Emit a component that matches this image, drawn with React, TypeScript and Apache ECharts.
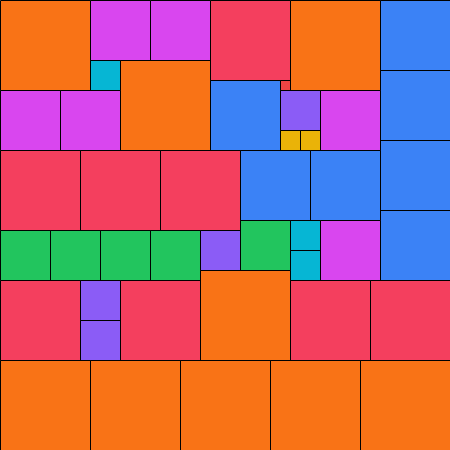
import React, { useEffect, useRef } from "react";
import * as echarts from "echarts";

// Cells in grid units (1 unit = 1/45 of the square)
const cellX = [0, 9, 15, 9, 12, 21, 28, 29, 38, 38, 38, 38, 0, 6, 21, 28, 28, 30, 32, 0, 8, 16, 24, 31, 0, 5, 10, 15, 20, 24, 29, 29, 32, 0, 8, 8, 12, 20, 29, 37, 0, 9, 18, 27, 36];
const cellY = [0, 0, 0, 6, 6, 0, 8, 0, 0, 7, 14, 21, 9, 9, 8, 9, 13, 13, 9, 15, 15, 15, 15, 15, 23, 23, 23, 23, 23, 22, 22, 25, 22, 28, 28, 32, 28, 27, 28, 28, 36, 36, 36, 36, 36];
const cellW = [9, 6, 6, 3, 9, 8, 1, 9, 7, 7, 7, 7, 6, 6, 7, 4, 2, 2, 6, 8, 8, 8, 7, 7, 5, 5, 5, 5, 4, 5, 3, 3, 6, 8, 4, 4, 8, 9, 8, 8, 9, 9, 9, 9, 9];
const cellH = cellW;
const cellGroup = [
  "orange", "magenta", "magenta", "cyan", "orange", "rose", "red", "orange", "blue", "blue", "blue", "blue",
  "magenta", "magenta", "blue", "purple", "yellow", "yellow", "magenta",
  "rose", "rose", "rose", "blue", "blue",
  "green", "green", "green", "green", "purple", "green", "cyan", "cyan", "magenta",
  "rose", "purple", "purple", "rose", "orange", "rose", "rose",
  "orange", "orange", "orange", "orange", "orange",
];

const palette: Record<string, string> = {
  orange: "#f97316",
  magenta: "#d946ef",
  cyan: "#06b6d4",
  rose: "#f43f5e",
  red: "#ef4444",
  blue: "#3b82f6",
  purple: "#8b5cf6",
  yellow: "#eab308",
  green: "#22c55e",
};

export default function App() {
  const ref = useRef<HTMLDivElement>(null);
  useEffect(() => {
    document.body.style.margin = "0";
    if (!ref.current) return;
    const chart = echarts.init(ref.current, null, { renderer: "svg" });
    const data = cellX.map((x, i) => [x, cellY[i], cellW[i], cellH[i], i]);
    chart.setOption({
      animation: false,
      grid: { left: 0, right: 0, top: 0, bottom: 0 },
      xAxis: { type: "value", min: 0, max: 45, show: false },
      yAxis: { type: "value", min: 0, max: 45, inverse: true, show: false },
      series: [
        {
          type: "custom",
          data,
          renderItem: (params: any, api: any) => {
            const x = api.value(0);
            const y = api.value(1);
            const w = api.value(2);
            const h = api.value(3);
            const idx = api.value(4);
            const p0 = api.coord([x, y]);
            const p1 = api.coord([x + w, y + h]);
            return {
              type: "rect",
              shape: {
                x: Math.round(p0[0]) + 0.5,
                y: Math.round(p0[1]) + 0.5,
                width: Math.round(p1[0]) - Math.round(p0[0]),
                height: Math.round(p1[1]) - Math.round(p0[1]),
              },
              style: {
                fill: palette[cellGroup[idx]],
                stroke: "#000",
                lineWidth: 1,
              },
            };
          },
        },
      ],
    });
    return () => chart.dispose();
  }, []);
  return <div ref={ref} style={{ width: 450, height: 450 }} />;
}
